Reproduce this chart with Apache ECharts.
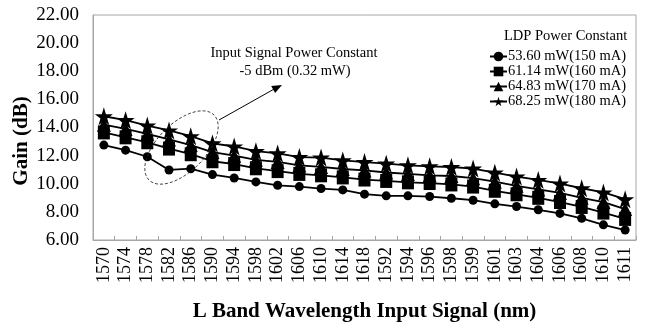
<!DOCTYPE html>
<html>
<head>
<meta charset="utf-8">
<script src="https://cdn.jsdelivr.net/npm/echarts@6/dist/echarts.min.js"></script>
<style>
  html, body { margin: 0; padding: 0; background: #fff; }
  #chart { width: 647px; height: 327px; }
</style>
</head>
<body>
<div id="chart"></div>
<script>
// 波长（横轴标签，按原图顺序）
const wavelengths = ['1570', '1574', '1578', '1582', '1586', '1590', '1594', '1598', '1602', '1606',
  '1610', '1614', '1618', '1592', '1594', '1596', '1598', '1599', '1601', '1603',
  '1604', '1606', '1608', '1610', '1611'];

// 增益 (dB)
const gain150 = [12.75, 12.39, 11.92, 10.98, 11.07, 10.65, 10.41, 10.13, 9.89, 9.80,
  9.66, 9.56, 9.26, 9.14, 9.14, 9.09, 8.97, 8.83, 8.57, 8.38,
  8.15, 7.89, 7.54, 7.08, 6.71];
const gain160 = [13.65, 13.30, 12.95, 12.50, 12.10, 11.60, 11.40, 11.10, 10.90, 10.70,
  10.60, 10.45, 10.30, 10.20, 10.10, 10.05, 9.95, 9.80, 9.50, 9.25,
  9.00, 8.70, 8.35, 7.95, 7.50];
const gain170 = [14.20, 13.90, 13.55, 13.15, 12.75, 12.25, 12.00, 11.70, 11.55, 11.30,
  11.20, 11.05, 10.95, 10.80, 10.70, 10.60, 10.55, 10.40, 10.15, 9.85,
  9.60, 9.35, 9.00, 8.70, 8.20];
const gain180 = [14.80, 14.52, 14.14, 13.79, 13.38, 12.87, 12.65, 12.32, 12.16, 11.90,
  11.86, 11.66, 11.54, 11.43, 11.31, 11.24, 11.19, 11.08, 10.79, 10.51,
  10.27, 10.01, 9.68, 9.38, 8.90];

const seriesNames = ['53.60 mW(150 mA)', '61.14 mW(160 mA)', '64.83 mW(170 mA)', '68.25 mW(180 mA)'];

const FONT = '"Liberation Serif", "Times New Roman", serif';
const STAR = 'path://M50,0 L61,35 L98,35 L68,57 L79,91 L50,70 L21,91 L32,57 L2,35 L39,35 Z';

const chart = echarts.init(document.getElementById('chart'), null, { renderer: 'canvas' });

function lineSeries(name, data, symbol, size) {
  return {
    name: name,
    type: 'line',
    data: data,
    symbol: symbol,
    symbolSize: size,
    lineStyle: { color: '#000', width: 1.8 },
    itemStyle: { color: '#000' },
    emphasis: { disabled: true },
    animation: false
  };
}

const option = {
  backgroundColor: '#fff',
  textStyle: { fontFamily: FONT, color: '#000' },
  title: {
    text: 'LDP Power Constant',
    left: 499,
    top: 24,
    textStyle: { fontFamily: FONT, fontSize: 14.5, fontWeight: 'normal', color: '#000' }
  },
  legend: {
    orient: 'vertical',
    left: 484,
    top: 44,
    itemWidth: 17,
    itemHeight: 12,
    itemGap: 0,
    textStyle: { fontFamily: FONT, fontSize: 14.5, lineHeight: 13, color: '#000', padding: [0, 0, 0, -4] },
    data: seriesNames
  },
  grid: {
    left: 93,
    right: 11,
    top: 15,
    bottom: 86,
    show: true,
    borderColor: '#a6a6a6',
    borderWidth: 1
  },
  xAxis: {
    type: 'category',
    data: wavelengths,
    boundaryGap: true,
    name: 'L Band Wavelength Input Signal (nm)',
    nameLocation: 'middle',
    nameGap: 61,
    nameTextStyle: { fontFamily: FONT, fontSize: 21, fontWeight: 'bold', color: '#000' },
    axisLine: { lineStyle: { color: '#a6a6a6' } },
    axisTick: { show: true, inside: true, length: 4, lineStyle: { color: '#a6a6a6' } },
    axisLabel: { rotate: 90, interval: 0, fontFamily: FONT, fontSize: 18, color: '#000', margin: 7 },
    splitLine: { show: false }
  },
  yAxis: {
    type: 'value',
    min: 6,
    max: 22,
    interval: 2,
    axisLine: { show: true, lineStyle: { color: '#a6a6a6' } },
    axisTick: { show: false },
    axisLabel: {
      fontFamily: FONT, fontSize: 19, color: '#000', margin: 14,
      formatter: v => v.toFixed(2)
    },
    splitLine: { show: false }
  },
  graphic: [
    {
      type: 'text',
      x: 22, y: 141,
      rotation: Math.PI / 2,
      style: {
        text: 'Gain (dB)',
        font: 'bold 21px ' + FONT,
        fill: '#000',
        align: 'center',
        verticalAlign: 'middle'
      }
    },
    {
      type: 'text',
      x: 294, y: 53,
      style: {
        text: 'Input Signal Power Constant',
        font: '14.5px ' + FONT,
        fill: '#000',
        align: 'center',
        verticalAlign: 'middle'
      }
    },
    {
      type: 'text',
      x: 295, y: 71,
      style: {
        text: '-5 dBm (0.32 mW)',
        font: '14.5px ' + FONT,
        fill: '#000',
        align: 'center',
        verticalAlign: 'middle'
      }
    },
    {
      type: 'ellipse',
      x: 181.5, y: 147.5,
      rotation: Math.PI / 4,
      shape: { cx: 0, cy: 0, rx: 46, ry: 24 },
      style: { fill: 'none', stroke: '#222', lineWidth: 0.8, lineDash: [3, 2] },
      z: 10
    },
    {
      type: 'line',
      shape: { x1: 219, y1: 120, x2: 276, y2: 88 },
      style: { stroke: '#000', lineWidth: 1 },
      z: 10
    },
    {
      type: 'polygon',
      shape: { points: [[282, 85], [275.1, 92.9], [271.2, 85.9]] },
      style: { fill: '#000' },
      z: 10
    }
  ],
  series: [
    lineSeries(seriesNames[0], gain150, 'circle', 9),
    lineSeries(seriesNames[1], gain160, 'rect', [12, 14]),
    lineSeries(seriesNames[2], gain170, 'triangle', 14),
    lineSeries(seriesNames[3], gain180, STAR, 18)
  ]
};

chart.setOption(option);
</script>
</body>
</html>
